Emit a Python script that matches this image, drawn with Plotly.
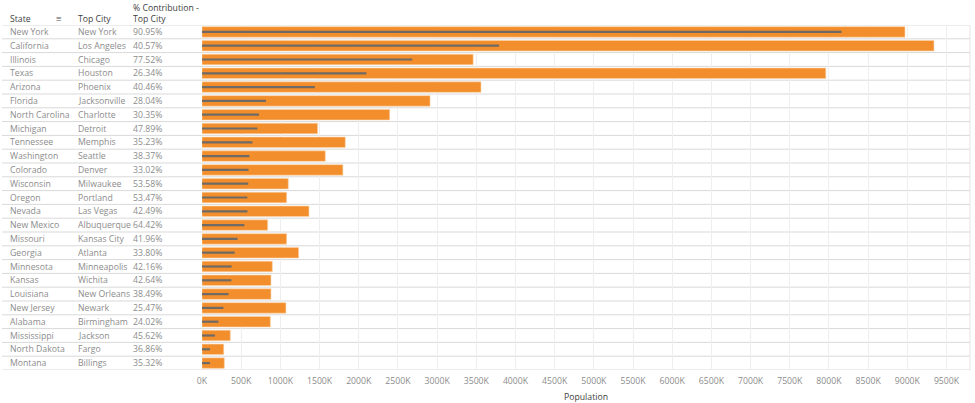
import plotly.graph_objects as go

states = ["New York", "California", "Illinois", "Texas", "Arizona", "Florida",
          "North Carolina", "Michigan", "Tennessee", "Washington", "Colorado",
          "Wisconsin", "Oregon", "Nevada", "New Mexico", "Missouri", "Georgia",
          "Minnesota", "Kansas", "Louisiana", "New Jersey", "Alabama",
          "Mississippi", "North Dakota", "Montana"]
top_cities = ["New York", "Los Angeles", "Chicago", "Houston", "Phoenix",
              "Jacksonville", "Charlotte", "Detroit", "Memphis", "Seattle",
              "Denver", "Milwaukee", "Portland", "Las Vegas", "Albuquerque",
              "Kansas City", "Atlanta", "Minneapolis", "Wichita", "New Orleans",
              "Newark", "Birmingham", "Jackson", "Fargo", "Billings"]
pct_labels = ["90.95%", "40.57%", "77.52%", "26.34%", "40.46%", "28.04%",
              "30.35%", "47.89%", "35.23%", "38.37%", "33.02%", "53.58%",
              "53.47%", "42.49%", "64.42%", "41.96%", "33.80%", "42.16%",
              "42.64%", "38.49%", "25.47%", "24.02%", "45.62%", "36.86%",
              "35.32%"]
# total population of listed cities per state
state_pop = [8970000, 9340000, 3460000, 7960000, 3560000, 2910000, 2395000,
             1475000, 1828000, 1573000, 1798000, 1101000, 1080000, 1365000,
             838000, 1080000, 1233000, 897000, 880000, 880000, 1071000,
             872000, 361000, 277000, 285000]
# population of top city
city_pop = [8160000, 3790000, 2683000, 2097000, 1440000, 816000, 727000,
            706000, 644000, 604000, 594000, 590000, 578000, 580000, 540000,
            453000, 417000, 378000, 375000, 339000, 273000, 209000, 165000,
            102000, 101000]
x_ticks = list(range(0, 9500001, 500000))
x_tick_text = [f"{int(v / 1000)}K" for v in x_ticks]

FONT = "Open Sans"
FIG_W, FIG_H = 975, 403
PLOT_L, PLOT_R = 202, 970
PLOT_T, PLOT_B = 25, 370
W = PLOT_R - PLOT_L
H = PLOT_B - PLOT_T


def px(x):
    return (x - PLOT_L) / W


def py(y):
    return 1 - (y - PLOT_T) / H


fig = go.Figure()
fig.add_trace(go.Bar(
    y=states, x=state_pop, orientation="h", width=0.76,
    marker=dict(color="#F28E2B", line=dict(color="#FAD3AA", width=0.6)),
    hoverinfo="skip"))
fig.add_trace(go.Bar(
    y=states, x=city_pop, orientation="h", width=0.16,
    marker=dict(color="#6F6A66", line=dict(width=0)),
    hoverinfo="skip"))

# table columns
for i, (s, c, p) in enumerate(zip(states, top_cities, pct_labels)):
    for xp, t in ((8, s), (76, c), (131, p)):
        fig.add_annotation(x=px(xp), xref="paper", y=i, yref="y", text=t,
                           xanchor="left", yanchor="middle", showarrow=False,
                           font=dict(family=FONT, size=8.7, color="#8c8c8c"))

# headers
for xp, yp, t in ((8, 19, "State"), (76, 19, "Top City"),
                  (131, 19, "Top City"), (131, 8, "% Contribution -")):
    fig.add_annotation(x=px(xp), xref="paper", y=py(yp), yref="paper",
                       text=t, xanchor="left", yanchor="middle", showarrow=False,
                       font=dict(family=FONT, size=8.7, color="#404040"))
fig.add_annotation(x=px(54), xref="paper", y=py(18), yref="paper", text="≡",
                   xanchor="left", yanchor="middle", showarrow=False,
                   font=dict(family=FONT, size=10, color="#555555"))

# row dividers
n = len(states)
for k in range(n + 1):
    fig.add_shape(type="line", xref="paper", yref="y",
                  x0=px(2), x1=1, y0=k - 0.5, y1=k - 0.5,
                  line=dict(color="#d9d9d9", width=1), layer="below")
fig.add_shape(type="line", xref="paper", yref="paper", x0=1, x1=1,
              y0=0, y1=1, line=dict(color="#e3e3e3", width=1))

fig.update_layout(
    width=FIG_W, height=FIG_H, barmode="overlay", showlegend=False,
    plot_bgcolor="white", paper_bgcolor="white",
    margin=dict(l=PLOT_L, r=FIG_W - PLOT_R, t=PLOT_T, b=FIG_H - PLOT_B),
    font=dict(family=FONT, size=9, color="#777777"),
)
fig.update_yaxes(range=[n - 0.5, -0.5], showticklabels=False, showgrid=False,
                 zeroline=False, showline=False, ticks="", automargin=False)
fig.update_xaxes(range=[0, 9800000], tickvals=x_ticks, ticktext=x_tick_text,
                 showgrid=True, gridcolor="#eeeeee", gridwidth=1,
                 zeroline=False, showline=False, automargin=False,
                 ticks="outside", ticklen=3, tickcolor="rgba(0,0,0,0)",
                 tickfont=dict(family=FONT, size=8.7, color="#8c8c8c"),
                 title=dict(text="Population", standoff=7,
                            font=dict(family=FONT, size=8.7, color="#404040")))

fig.write_html("out.html", config={"displayModeBar": False},
               post_script="document.body.style.margin='0px';")
